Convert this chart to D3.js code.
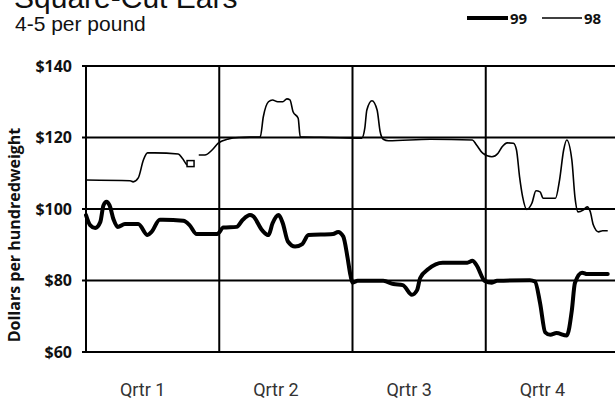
<!DOCTYPE html>
<html>
<head>
<meta charset="utf-8">
<script src="https://cdn.jsdelivr.net/npm/d3@7"></script>
<style>
  html, body { margin: 0; padding: 0; background: #fff; overflow: hidden; }
  svg { display: block; }
</style>
</head>
<body>
<svg id="chart" width="615" height="404"></svg>
<script>
// ---- data (week of year, dollars per hundredweight) ----
const title = "Square-Cut Ears";
const subtitle = "4-5 per pound";
const yTicks = [60, 80, 100, 120, 140];
const quarterLabels = ["Qrtr 1", "Qrtr 2", "Qrtr 3", "Qrtr 4"];
const quarterBounds = [13, 26, 39];
const seriesNames = ["99", "98"];

const weeks99 = [0, 0.4, 0.9, 1.4, 1.7, 2.0, 2.3, 2.7, 3.1, 3.8, 5.1, 6.0, 6.4, 7.2, 7.5, 9.5, 10.1, 10.8, 12.8, 13.4, 14.7, 15.3, 16.0, 16.3, 17.2, 17.8, 18.2, 18.8, 19.2, 19.7, 20.4, 21.1, 21.7, 24.1, 24.6, 25.1, 25.5, 25.8, 26.0, 26.5, 29.0, 30.0, 30.9, 31.8, 32.3, 32.6, 33.4, 34.8, 37.2, 37.7, 38.1, 38.9, 39.6, 40.1, 43.3, 43.8, 44.3, 44.8, 45.3, 45.9, 46.9, 47.4, 47.7, 48.4, 48.9, 50.9];
const values99 = [98.3, 95.5, 94.7, 96.4, 101, 102, 101, 97, 95, 95.8, 95.8, 92.7, 93.6, 97, 97, 96.7, 95.5, 93, 93, 94.8, 95, 97, 98.3, 98, 94, 92.7, 96, 98.3, 96, 90.9, 89.5, 90.2, 92.7, 93, 93.6, 92.3, 86.7, 81.5, 79.4, 79.9, 79.9, 79, 78.7, 76, 77.3, 80.7, 83.2, 85, 85, 85.5, 84.3, 79.9, 79.4, 79.9, 80.1, 79.7, 73.7, 65.5, 64.8, 65.3, 64.6, 71.7, 79.3, 82.2, 81.8, 81.8];

// null marks the gap in the 98 series
const weeks98 = [0, 4.3, 4.6, 5.1, 5.6, 6.0, 6.7, 9.0, 9.4, 9.9, 10.2, 10.6, 11.0, 11.6, 12.3, 12.9, 13.9, 15.0, 17.0, 17.3, 17.8, 18.2, 18.7, 19.2, 19.6, 19.9, 20.2, 20.7, 20.9, 23.8, 26.9, 27.2, 27.4, 27.9, 28.4, 28.7, 29.0, 29.5, 33.6, 37.7, 38.1, 38.7, 39.6, 40.2, 40.6, 41.1, 41.7, 42.0, 42.3, 42.6, 43.0, 43.5, 43.9, 44.3, 44.6, 45.8, 46.2, 46.6, 46.9, 47.4, 47.7, 48.0, 48.5, 48.9, 49.2, 49.5, 50.0, 50.4, 50.9];
const values98 = [108.1, 107.9, 107.6, 108.7, 113.7, 115.7, 115.7, 115.4, 114.2, 112.3, 112.7, null, 115.1, 115.1, 116.5, 118.4, 119.6, 120, 120.2, 125.8, 130, 130.5, 130, 130, 130.8, 130.5, 127.2, 125.4, 120.2, 120, 119.8, 122.6, 127.7, 130.3, 127.7, 121.6, 119.5, 119.1, 119.5, 119.3, 117.9, 115.6, 114.6, 115.6, 117.4, 118.5, 118.4, 116.5, 109, 103.4, 99.9, 101.6, 105.1, 104.8, 103, 103, 108.1, 116.5, 119.3, 113.7, 103.4, 99.2, 99.7, 100.6, 99.2, 95.5, 93.6, 93.9, 93.9];
// isolated point drawn with a square marker
const marker98 = [{ w: 10.2, v: 112.7 }];

// ---- chart ----
const svg = d3.select("#chart");
const x = d3.scaleLinear().domain([0, 52]).range([86, 619]);
const y = d3.scaleLinear().domain([60, 140]).range([352, 66]);

// titles
svg.append("text").attr("x", 14).attr("y", 8)
  .attr("font-family", "Liberation Sans, Arial, sans-serif").attr("font-size", 30)
  .attr("fill", "#111").text(title);
svg.append("text").attr("x", 15).attr("y", 31)
  .attr("font-family", "Liberation Sans, Arial, sans-serif").attr("font-size", 21)
  .attr("fill", "#111").text(subtitle);

// horizontal grid
svg.append("g").selectAll("line").data(yTicks).join("line")
  .attr("x1", x(0) - 4).attr("x2", 619)
  .attr("y1", d => y(d)).attr("y2", d => y(d))
  .attr("stroke", "#000").attr("stroke-width", 2);

// vertical lines (axis + quarter boundaries)
svg.append("g").selectAll("line").data([0].concat(quarterBounds)).join("line")
  .attr("x1", d => x(d)).attr("x2", d => x(d))
  .attr("y1", y(140) - 1).attr("y2", y(60) + 1)
  .attr("stroke", "#000").attr("stroke-width", 2);

// y axis labels
const yAxis = d3.axisLeft(y).tickValues(yTicks).tickFormat(d => "$" + d).tickSize(0).tickPadding(14);
const gy = svg.append("g").attr("transform", `translate(${x(0)},0)`).call(yAxis);
gy.select(".domain").remove();
gy.selectAll("text")
  .attr("font-family", "Open Sans, sans-serif").attr("font-weight", 700)
  .attr("font-size", 16).attr("fill", "#111");

// y title
svg.append("text")
  .attr("transform", `translate(20,235) rotate(-90)`)
  .attr("text-anchor", "middle")
  .attr("font-family", "Open Sans, sans-serif").attr("font-weight", 700)
  .attr("font-size", 16).attr("fill", "#111")
  .text("Dollars per hundredweight");

// quarter labels
svg.append("g").selectAll("text").data(quarterLabels).join("text")
  .attr("x", (d, i) => x(i * 13 + 6.5) - 10)
  .attr("y", 396)
  .attr("text-anchor", "middle")
  .attr("font-family", "Roboto, sans-serif").attr("font-size", 18)
  .attr("fill", "#333").text(d => d);

// lines
const line = d3.line()
  .defined(d => d.v !== null)
  .x(d => x(d.w)).y(d => y(d.v))
  .curve(d3.curveMonotoneX);

const data99 = weeks99.map((w, i) => ({ w, v: values99[i] }));
const data98 = weeks98.map((w, i) => ({ w, v: values98[i] }));

svg.append("path").datum(data98).attr("d", line)
  .attr("fill", "none").attr("stroke", "#000").attr("stroke-width", 1.6)
  .attr("stroke-linejoin", "round");

svg.append("g").selectAll("rect").data(marker98).join("rect")
  .attr("x", d => x(d.w) - 3.5).attr("y", d => y(d.v) - 3)
  .attr("width", 7).attr("height", 6)
  .attr("fill", "#fff").attr("stroke", "#000").attr("stroke-width", 1.5);

svg.append("path").datum(data99).attr("d", line)
  .attr("fill", "none").attr("stroke", "#000").attr("stroke-width", 4)
  .attr("stroke-linejoin", "round").attr("stroke-linecap", "round");

// legend
const legend = [
  { name: seriesNames[0], x1: 467, x2: 508, w: 4 },
  { name: seriesNames[1], x1: 542, x2: 582, w: 1.6 }
];
const lg = svg.append("g");
lg.selectAll("line").data(legend).join("line")
  .attr("x1", d => d.x1).attr("x2", d => d.x2).attr("y1", 18).attr("y2", 18)
  .attr("stroke", "#000").attr("stroke-width", d => d.w);
lg.selectAll("text").data(legend).join("text")
  .attr("x", d => d.x2 + 2).attr("y", 24)
  .attr("font-family", "Open Sans, sans-serif").attr("font-weight", 700)
  .attr("font-size", 15).attr("fill", "#111").text(d => d.name);
</script>
</body>
</html>
